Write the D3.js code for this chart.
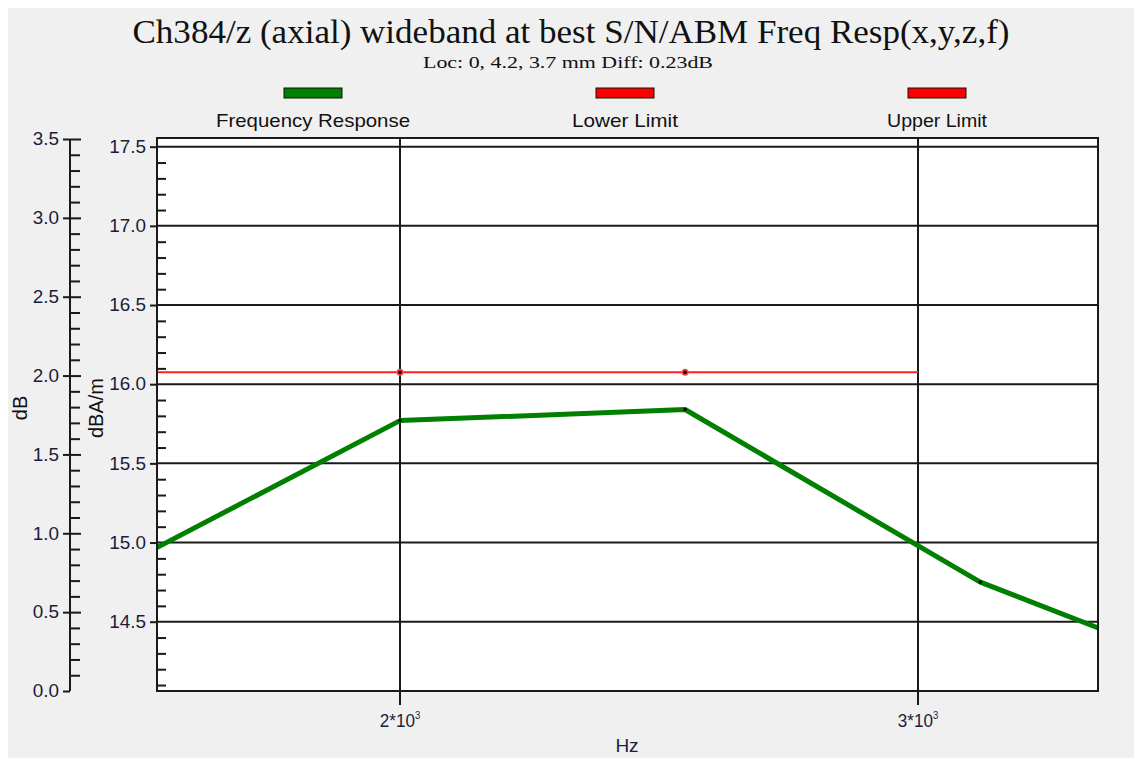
<!DOCTYPE html>
<html>
<head>
<meta charset="utf-8">
<script src="https://cdn.jsdelivr.net/npm/d3@7"></script>
<style>
  body { margin: 0; background: #fff; }
  svg { display: block; }
</style>
</head>
<body>
<div id="chart"></div>
<script>
// ---- data ----
const freqs = [1600, 2000, 2500, 3150, 4000];
const response = [14.83, 15.77, 15.84, 14.75, 14.0];
const limitFreqs = [1600, 2000, 2500, 3000];
const lowerLimit = [16.075, 16.075, 16.075, 16.075];
const upperLimit = [];
const dbTicks = [0, 0.5, 1.0, 1.5, 2.0, 2.5, 3.0, 3.5];
const dbaTicks = [14.5, 15.0, 15.5, 16.0, 16.5, 17.0, 17.5];
const xTicks = [2000, 3000];
const xTickLabels = ["2*10", "3*10"];
const legendNames = ["Frequency Response", "Lower Limit", "Upper Limit"];
const legendColors = ["#008000", "#ff0000", "#ff0000"];
const legendWidths = [194, 106, 100];

// ---- layout ----
const W = 1134, H = 758;
const plot = { x0: 157, x1: 1098, y0: 138, y1: 691 };
const labelColor = "#1c1c3c";
const sx = 1.05;

const svg = d3.select("#chart").append("svg")
  .attr("width", W).attr("height", H)
  .style("font-family", "'Liberation Sans', Arial, sans-serif");

svg.append("rect").attr("x", 8).attr("y", 8).attr("width", W - 8).attr("height", H - 8)
  .attr("fill", "#f0f0f0");

// scales
const x = d3.scaleLog().domain([2000, 3000]).range([400, 918]);
const y = d3.scaleLinear().domain([14.5, 17.5]).range([621.7, 146.7]);
const yDb = d3.scaleLinear().domain([0, 3.5]).range([691, 139]);

// title
svg.append("text")
  .attr("x", 571).attr("y", 43)
  .attr("text-anchor", "middle")
  .attr("textLength", 877).attr("lengthAdjust", "spacingAndGlyphs")
  .style("font-family", "'Liberation Serif', 'Times New Roman', serif")
  .style("font-size", "34px")
  .attr("fill", "#111")
  .text("Ch384/z (axial) wideband at best S/N/ABM Freq Resp(x,y,z,f)");

svg.append("text")
  .attr("x", 568).attr("y", 68)
  .attr("text-anchor", "middle")
  .attr("textLength", 290).attr("lengthAdjust", "spacingAndGlyphs")
  .style("font-family", "'Liberation Serif', 'Times New Roman', serif")
  .style("font-size", "17px")
  .attr("fill", "#111")
  .text("Loc: 0, 4.2, 3.7 mm Diff: 0.23dB");

// legend
const legendX = [313, 625, 937];
const lg = svg.append("g").selectAll("g").data(legendNames).enter().append("g")
  .attr("transform", (d, i) => `translate(${legendX[i]},0)`);
lg.append("rect")
  .attr("x", -29).attr("y", 88).attr("width", 58).attr("height", 10)
  .attr("fill", (d, i) => legendColors[i])
  .attr("stroke", "#111").attr("stroke-width", 1);
lg.append("text")
  .attr("x", 0).attr("y", 127)
  .attr("text-anchor", "middle")
  .attr("textLength", (d, i) => legendWidths[i]).attr("lengthAdjust", "spacingAndGlyphs")
  .style("font-size", "19px")
  .attr("fill", "#111")
  .text(d => d);

// plot background
svg.append("rect")
  .attr("x", plot.x0).attr("y", plot.y0)
  .attr("width", plot.x1 - plot.x0).attr("height", plot.y1 - plot.y0)
  .attr("fill", "#fff");

// grid
svg.append("g").selectAll("line").data(dbaTicks).enter().append("line")
  .attr("x1", plot.x0).attr("x2", plot.x1)
  .attr("y1", d => y(d)).attr("y2", d => y(d))
  .attr("stroke", "#1a1a1a").attr("stroke-width", 2);
svg.append("g").selectAll("line").data(xTicks).enter().append("line")
  .attr("x1", d => x(d)).attr("x2", d => x(d))
  .attr("y1", plot.y0).attr("y2", plot.y1 + 14)
  .attr("stroke", "#1a1a1a").attr("stroke-width", 2);

// x tick labels
const xl = svg.append("g").selectAll("text").data(xTicks).enter().append("text")
  .attr("transform", d => `translate(${x(d)},727) scale(0.95,1)`)
  .attr("text-anchor", "middle")
  .style("font-size", "18px")
  .attr("fill", labelColor);
xl.append("tspan").text((d, i) => xTickLabels[i]);
xl.append("tspan").attr("dy", -8).style("font-size", "10px").text("3");

svg.append("text")
  .attr("transform", "translate(627,752)")
  .attr("text-anchor", "middle")
  .style("font-size", "19px")
  .attr("fill", labelColor)
  .text("Hz");

// clipped data
svg.append("clipPath").attr("id", "clip").append("rect")
  .attr("x", plot.x0).attr("y", plot.y0)
  .attr("width", plot.x1 - plot.x0).attr("height", plot.y1 - plot.y0);
const data = svg.append("g").attr("clip-path", "url(#clip)");

const line = d3.line().x(d => x(d[0])).y(d => y(d[1]));

const lowerPts = limitFreqs.map((f, i) => [f, lowerLimit[i]]);
data.append("path")
  .attr("d", line(lowerPts))
  .attr("fill", "none").attr("stroke", "#ff2020").attr("stroke-width", 2);
if (upperLimit.length) {
  data.append("path")
    .attr("d", line(limitFreqs.map((f, i) => [f, upperLimit[i]])))
    .attr("fill", "none").attr("stroke", "#ff2020").attr("stroke-width", 2);
}
data.selectAll(".ldot").data(lowerPts.slice(0, -1)).enter().append("circle")
  .attr("cx", d => x(d[0])).attr("cy", d => y(d[1])).attr("r", 3.5)
  .attr("fill", "#ff4040");
data.selectAll(".ldot2").data(lowerPts.slice(0, -1)).enter().append("circle")
  .attr("cx", d => x(d[0])).attr("cy", d => y(d[1])).attr("r", 1.8)
  .attr("fill", "#000");

const respPts = freqs.map((f, i) => [f, response[i]]);
data.append("path")
  .attr("d", line(respPts))
  .attr("fill", "none").attr("stroke", "#007f00").attr("stroke-width", 5)
  .attr("stroke-linejoin", "round");
data.selectAll(".rdot").data(respPts).enter().append("circle")
  .attr("cx", d => x(d[0])).attr("cy", d => y(d[1])).attr("r", 1.8)
  .attr("fill", "#000");

// plot border
svg.append("rect")
  .attr("x", plot.x0).attr("y", plot.y0)
  .attr("width", plot.x1 - plot.x0).attr("height", plot.y1 - plot.y0)
  .attr("fill", "none").attr("stroke", "#1a1a1a").attr("stroke-width", 2);

// inner axis (dBA/m)
const minorDba = d3.range(141, 176).map(d => d / 10).filter(d => Math.round(d * 10) % 5 !== 0);
const innerAxis = svg.append("g").attr("transform", `translate(${plot.x0},0)`);
innerAxis.append("g").call(d3.axisLeft(y).tickValues(minorDba).tickSize(-9).tickFormat(""))
  .call(g => g.select(".domain").remove());
innerAxis.append("g").call(d3.axisLeft(y).tickValues(dbaTicks).tickSize(7).tickPadding(0).tickFormat(d3.format(".1f")))
  .call(g => g.select(".domain").remove());
innerAxis.selectAll("line").attr("stroke", "#1a1a1a").attr("stroke-width", 2);
innerAxis.selectAll("text")
  .attr("x", -11 / sx).attr("transform", `scale(${sx},1)`)
  .attr("fill", labelColor).style("font-size", "18px").style("font-family", "'Liberation Sans', Arial, sans-serif");

// outer axis (dB)
const minorDb = d3.range(1, 35).map(d => d / 10).filter(d => Math.round(d * 10) % 5 !== 0);
const dbAxis = svg.append("g").attr("transform", "translate(70,0)");
dbAxis.append("line").attr("x1", 0).attr("x2", 0).attr("y1", yDb(0)).attr("y2", yDb(3.5))
  .attr("stroke", "#1a1a1a").attr("stroke-width", 2);
dbAxis.append("g").call(d3.axisLeft(yDb).tickValues(minorDb).tickSize(-10).tickFormat(""))
  .call(g => g.select(".domain").remove());
dbAxis.append("g").call(d3.axisLeft(yDb).tickValues(dbTicks.slice(1)).tickSize(-11).tickFormat(""))
  .call(g => g.select(".domain").remove());
dbAxis.append("g").call(d3.axisLeft(yDb).tickValues(dbTicks).tickSize(7).tickPadding(0).tickFormat(d3.format(".1f")))
  .call(g => g.select(".domain").remove());
dbAxis.selectAll("line").attr("stroke", "#1a1a1a").attr("stroke-width", 2);
dbAxis.selectAll("text")
  .attr("x", -11 / sx).attr("transform", `scale(${sx},1)`)
  .attr("fill", labelColor).style("font-size", "18px").style("font-family", "'Liberation Sans', Arial, sans-serif");

// axis titles
svg.append("text")
  .attr("transform", "translate(27,408) rotate(-90)")
  .attr("text-anchor", "middle")
  .style("font-size", "20px")
  .attr("fill", "#111")
  .text("dB");
svg.append("text")
  .attr("transform", "translate(103,408) rotate(-90)")
  .attr("text-anchor", "middle")
  .style("font-size", "20px")
  .attr("fill", "#111")
  .text("dBA/m");
</script>
</body>
</html>
